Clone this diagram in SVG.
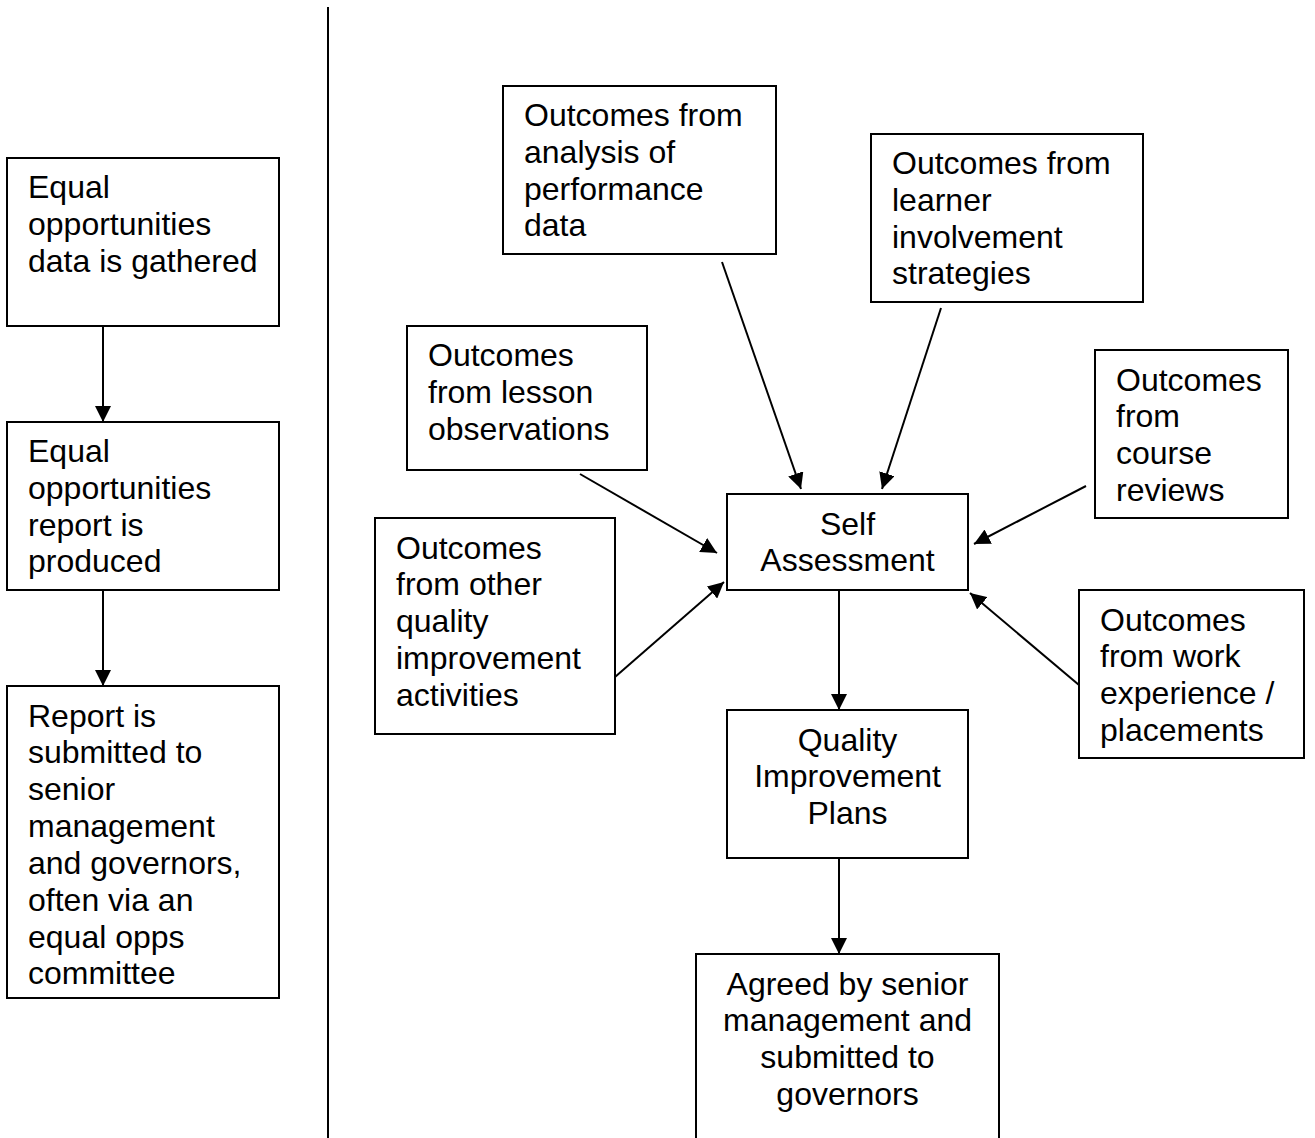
<svg xmlns="http://www.w3.org/2000/svg" width="1315" height="1138" viewBox="0 0 1315 1138">
<style>
rect{fill:#fff;stroke:#000;stroke-width:2}
text{font-family:"Liberation Sans",Arial,sans-serif;font-size:32px;fill:#000}
.c{text-anchor:middle}
.conn line{stroke:#000;stroke-width:2;marker-end:url(#ah)}
</style>
<defs>
<marker id="ah" markerUnits="userSpaceOnUse" markerWidth="16" markerHeight="16" viewBox="0 0 16 16" refX="16" refY="8" orient="auto">
<path d="M0,0 L16,8 L0,16 z" fill="#000"/>
</marker>
</defs>
<line x1="328" y1="7" x2="328" y2="1138" stroke="#000" stroke-width="2"/>
<g id="eo-data"><rect x="7" y="158" width="272" height="168"/>
<text x="28" y="198">Equal</text><text x="28" y="235">opportunities</text><text x="28" y="272">data is gathered</text></g>
<g id="eo-report"><rect x="7" y="422" width="272" height="168"/>
<text x="28" y="462">Equal</text><text x="28" y="499">opportunities</text><text x="28" y="536">report is</text><text x="28" y="572">produced</text></g>
<g id="eo-submit"><rect x="7" y="686" width="272" height="312"/>
<text x="28" y="727">Report is</text><text x="28" y="763">submitted to</text><text x="28" y="800">senior</text><text x="28" y="837">management</text><text x="28" y="874">and governors,</text><text x="28" y="911">often via an</text><text x="28" y="948">equal opps</text><text x="28" y="984">committee</text></g>
<g id="analysis"><rect x="503" y="86" width="273" height="168"/>
<text x="524" y="126">Outcomes from</text><text x="524" y="163">analysis of</text><text x="524" y="200">performance</text><text x="524" y="236">data</text></g>
<g id="learner"><rect x="871" y="134" width="272" height="168"/>
<text x="892" y="174">Outcomes from</text><text x="892" y="211">learner</text><text x="892" y="248">involvement</text><text x="892" y="284">strategies</text></g>
<g id="lesson"><rect x="407" y="326" width="240" height="144"/>
<text x="428" y="366">Outcomes</text><text x="428" y="403">from lesson</text><text x="428" y="440">observations</text></g>
<g id="course"><rect x="1095" y="350" width="193" height="168"/>
<text x="1116" y="391">Outcomes</text><text x="1116" y="427">from</text><text x="1116" y="464">course</text><text x="1116" y="501">reviews</text></g>
<g id="other"><rect x="375" y="518" width="240" height="216"/>
<text x="396" y="559">Outcomes</text><text x="396" y="595">from other</text><text x="396" y="632">quality</text><text x="396" y="669">improvement</text><text x="396" y="706">activities</text></g>
<g id="self"><rect x="727" y="494" width="241" height="96"/>
<text class="c" x="847.5" y="535">Self</text><text class="c" x="847.5" y="571">Assessment</text></g>
<g id="work"><rect x="1079" y="590" width="225" height="168"/>
<text x="1100" y="631">Outcomes</text><text x="1100" y="667">from work</text><text x="1100" y="704">experience /</text><text x="1100" y="741">placements</text></g>
<g id="qip"><rect x="727" y="710" width="241" height="148"/>
<text class="c" x="847.5" y="751">Quality</text><text class="c" x="847.5" y="787">Improvement</text><text class="c" x="847.5" y="824">Plans</text></g>
<g id="agreed"><rect x="696" y="954" width="303" height="200"/>
<text class="c" x="847.5" y="995">Agreed by senior</text><text class="c" x="847.5" y="1031">management and</text><text class="c" x="847.5" y="1068">submitted to</text><text class="c" x="847.5" y="1105">governors</text></g>
<g class="conn" id="connectors">
<line x1="103" y1="326" x2="103" y2="422"/>
<line x1="103" y1="590" x2="103" y2="686"/>
<line x1="722" y1="262" x2="801" y2="489"/>
<line x1="941" y1="308" x2="882" y2="489"/>
<line x1="580" y1="474" x2="717" y2="553"/>
<line x1="615" y1="677" x2="724" y2="582"/>
<line x1="1086" y1="486" x2="974" y2="544"/>
<line x1="1079" y1="685" x2="970" y2="593"/>
<line x1="839" y1="590" x2="839" y2="710"/>
<line x1="839" y1="858" x2="839" y2="954"/>
</g>
</svg>
